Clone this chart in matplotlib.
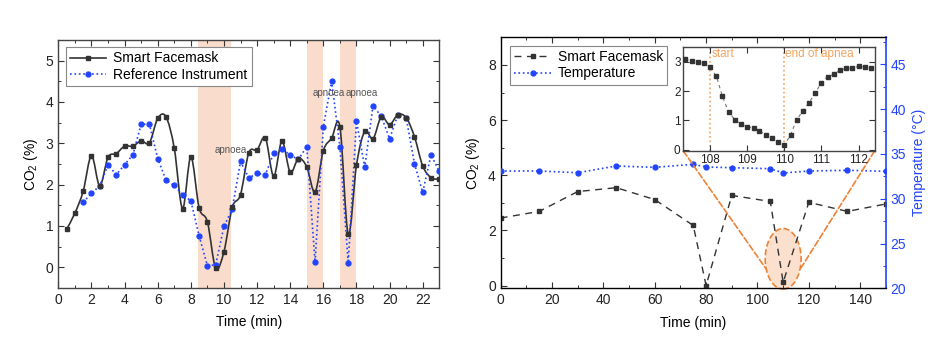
import numpy as np
import matplotlib
matplotlib.use("Agg")
import matplotlib.pyplot as plt
from matplotlib.path import Path
from matplotlib.patches import PathPatch, Ellipse, ConnectionPatch
from matplotlib.ticker import MultipleLocator
from matplotlib.lines import Line2D

plt.rcParams['font.family'] = ['Liberation Sans', 'DejaVu Sans']
plt.rcParams['font.size'] = 10

# ---------------- data: left panel ----------------
mask_t = [0.5, 1.0, 1.5, 2.0, 2.5, 3.0, 3.5, 4.0, 4.5, 5.0, 5.5, 6.0, 6.5, 7.0, 7.5,
          8.0, 8.5, 9.0, 9.5, 10.0, 10.5, 11.0, 11.5, 12.0, 12.5, 13.0, 13.5, 14.0,
          14.5, 15.0, 15.5, 16.0, 16.5, 17.0, 17.5, 18.0, 18.5, 19.0, 19.5, 20.0,
          20.5, 21.0, 21.5, 22.0, 22.5, 23.0]
mask_co2 = [0.92, 1.31, 1.84, 2.70, 1.97, 2.66, 2.75, 2.93, 2.93, 3.06, 3.01, 3.60,
            3.64, 2.88, 1.42, 2.67, 1.44, 1.10, -0.02, 0.38, 1.45, 1.76, 2.77, 2.84,
            3.13, 2.20, 3.05, 2.30, 2.63, 2.43, 1.82, 2.82, 3.12, 3.40, 0.80, 2.47,
            3.29, 3.11, 3.64, 3.45, 3.69, 3.62, 3.16, 2.45, 2.17, 2.13]

ref_t = [1.5, 2.0, 2.5, 3.0, 3.5, 4.0, 4.5, 5.0, 5.5, 6.0, 6.5, 7.0, 7.5, 8.0, 8.5,
         9.0, 9.5, 10.0, 10.5, 11.0, 11.5, 12.0, 12.5, 13.0, 13.5, 14.0, 14.5, 15.0,
         15.5, 16.0, 16.5, 17.0, 17.5, 18.0, 18.5, 19.0, 19.5, 20.0, 20.5, 21.0,
         21.5, 22.0, 22.5, 23.0]
ref_co2 = [1.57, 1.79, 1.97, 2.48, 2.24, 2.48, 2.72, 3.46, 3.46, 2.63, 2.11, 1.98,
           1.76, 1.61, 0.76, 0.04, 0.06, 0.99, 1.41, 2.56, 2.16, 2.27, 2.24, 2.76,
           2.87, 2.71, 2.61, 2.92, 0.12, 3.40, 4.50, 2.92, 0.10, 3.53, 2.42, 3.91,
           3.65, 3.11, 3.69, 3.62, 2.51, 1.81, 2.72, 2.32]

apnoea_bands = [(8.45, 10.4), (15.0, 16.0), (17.0, 18.0)]
apnoea_labels = [(10.4, 2.83), (16.3, 4.22), (18.3, 4.22)]

# ---------------- data: right panel ----------------
long_t = [0, 15, 30, 45, 60, 75, 80, 90, 105, 110, 120, 135, 150]
long_co2 = [2.45, 2.69, 3.41, 3.55, 3.12, 2.18, 0.0, 3.27, 3.05, 0.12, 3.02, 2.69, 2.96]
temp_t = [0, 15, 30, 45, 60, 75, 80, 90, 105, 110, 120, 135, 150]
temp_c = [33.09, 33.09, 32.90, 33.65, 33.50, 33.84, 33.54, 33.46, 33.35, 32.87, 33.09, 33.17, 33.06]

inset_t = [107.33, 107.5, 107.67, 107.83, 108.0, 108.17, 108.33, 108.5, 108.67, 108.83,
           109.0, 109.17, 109.33, 109.5, 109.67, 109.83, 110.0, 110.17, 110.33, 110.5,
           110.67, 110.83, 111.0, 111.17, 111.33, 111.5, 111.67, 111.83, 112.0, 112.17,
           112.33]
inset_co2 = [3.10, 3.03, 3.00, 2.95, 2.81, 2.51, 1.83, 1.28, 1.02, 0.87, 0.78, 0.74,
             0.65, 0.49, 0.40, 0.26, 0.15, 0.51, 1.01, 1.33, 1.61, 1.94, 2.29, 2.49,
             2.57, 2.72, 2.78, 2.78, 2.85, 2.83, 2.80]
inset_marks = [(108.0, 'start'), (110.0, 'end of apnea')]

BLACK = '#333333'
BLUE = '#2244FF'
BAND = '#F9DCCB'
ORANGE = '#EE8236'
ORANGE_T = '#F3A35E'


def smooth_path(xs, ys):
    """Catmull-Rom curve through the points as cubic Bezier path."""
    p = np.column_stack([xs, ys]).astype(float)
    pts = np.vstack([p[0], p, p[-1]])
    verts = [p[0]]
    codes = [Path.MOVETO]
    for i in range(1, len(pts) - 2):
        p0, p1, p2, p3 = pts[i - 1], pts[i], pts[i + 1], pts[i + 2]
        c1 = p1 + (p2 - p0) / 6.0
        c2 = p2 - (p3 - p1) / 6.0
        verts += [c1, c2, p2]
        codes += [Path.CURVE4] * 3
    return Path(verts, codes)


def style_ticks(ax, right=True, top=True):
    ax.tick_params(which='both', direction='in', top=top, right=right, colors=BLACK,
                   labelcolor='#222222')
    ax.tick_params(which='major', length=4, width=0.8)
    ax.tick_params(which='minor', length=2, width=0.7)
    for s in ax.spines.values():
        s.set_color('#444444')
        s.set_linewidth(1.0)


fig = plt.figure(figsize=(9.5, 3.56), dpi=100)

# ---------------- left panel ----------------
ax = fig.add_axes([0.0614, 0.191, 0.401, 0.697])
for a, b in apnoea_bands:
    ax.axvspan(a, b, color=BAND, lw=0, zorder=0)
pp = PathPatch(smooth_path(mask_t, mask_co2), facecolor='none', edgecolor=BLACK, lw=1.2, zorder=3)
ax.add_patch(pp)
ax.plot(mask_t, mask_co2, ls='none', marker='s', ms=3, color=BLACK, zorder=4)
ax.plot(ref_t, ref_co2, ls=':', lw=1.2, marker='o', ms=3.5, color=BLUE, zorder=3)
for (x, y) in apnoea_labels:
    ax.text(x, y, 'apnoea', ha='center', va='center', fontsize=7, color='#555555', zorder=5)
ax.set_xlim(0, 23)
ax.set_ylim(-0.5, 5.5)
ax.xaxis.set_major_locator(MultipleLocator(2))
ax.xaxis.set_minor_locator(MultipleLocator(1))
ax.yaxis.set_major_locator(MultipleLocator(1))
ax.yaxis.set_minor_locator(MultipleLocator(0.5))
style_ticks(ax)
ax.set_xlabel('Time (min)', labelpad=6)
ax.set_ylabel(r'CO$_\mathregular{2}$ (%)', labelpad=4)
h1 = Line2D([], [], color=BLACK, lw=1.2, marker='s', ms=3)
h2 = Line2D([], [], color=BLUE, lw=1.2, ls=':', marker='o', ms=3.5)
leg = ax.legend([h1, h2], ['Smart Facemask', 'Reference Instrument'], loc='upper left',
                bbox_to_anchor=(0.02, 0.97), fancybox=False, edgecolor='#888888',
                framealpha=1, handlelength=2.6, borderpad=0.3, labelspacing=0.15,
                handletextpad=0.5, borderaxespad=0.0)
leg.get_frame().set_linewidth(0.8)

# ---------------- right panel ----------------
axr = fig.add_axes([0.527, 0.19, 0.4055, 0.705])
axt = axr.twinx()
ell = Ellipse((110, 0.97), width=14, height=2.2, facecolor='#FBE0CE', edgecolor=ORANGE,
              ls='--', lw=1.2, zorder=1, clip_on=False)
axr.add_patch(ell)
axr.plot(long_t, long_co2, ls=(0, (5, 4)), lw=1.0, marker='s', ms=3, color=BLACK, zorder=3)
axt.plot(temp_t, temp_c, ls=':', lw=1.2, marker='o', ms=3.5, color=BLUE, zorder=3)
axr.set_xlim(0, 150)
axr.set_ylim(-0.1, 9.0)
axt.set_ylim(20, 48)
axr.xaxis.set_major_locator(MultipleLocator(20))
axr.xaxis.set_minor_locator(MultipleLocator(10))
axr.yaxis.set_major_locator(MultipleLocator(2))
axr.yaxis.set_minor_locator(MultipleLocator(1))
axt.yaxis.set_major_locator(MultipleLocator(5))
axt.yaxis.set_minor_locator(MultipleLocator(2.5))
style_ticks(axr, right=False)
axt.tick_params(which='both', direction='in', colors=BLUE, labelcolor=BLUE, labelsize=10)
axt.tick_params(which='major', length=4, width=0.8)
axt.tick_params(which='minor', length=2, width=0.7)
axt.spines['right'].set_color(BLUE)
axt.spines['right'].set_linewidth(1.2)
axr.spines['right'].set_visible(False)
axr.set_xlabel('Time (min)', labelpad=6)
axr.set_ylabel(r'CO$_\mathregular{2}$ (%)', labelpad=4)
axt.set_ylabel('Temperature (°C)', color=BLUE, labelpad=4)
h3 = Line2D([], [], color=BLACK, lw=1.0, ls=(0, (5, 4)), marker='s', ms=3)
h4 = Line2D([], [], color=BLUE, lw=1.2, ls=':', marker='o', ms=3.5)
leg2 = axt.legend([h3, h4], ['Smart Facemask', 'Temperature'], loc='upper left',
                  bbox_to_anchor=(0.025, 0.965), fancybox=False, edgecolor='#888888',
                  framealpha=1, handlelength=2.6, borderpad=0.3, labelspacing=0.15,
                  handletextpad=0.5, borderaxespad=0.0)
leg2.get_frame().set_linewidth(0.8)

# ---------------- inset ----------------
axi = fig.add_axes([0.7193, 0.5758, 0.2013, 0.2913])
axi.set_zorder(5)
axi.plot(inset_t, inset_co2, ls=(0, (3, 3)), lw=0.8, color='#777777', zorder=2)
axi.plot(inset_t, inset_co2, ls='none', marker='s', ms=3, color=BLACK, zorder=3)
for x, lab in inset_marks:
    axi.axvline(x, color=ORANGE_T, ls=':', lw=1.2, zorder=1)
    axi.text(x + 0.03, 3.47, lab, color=ORANGE_T, fontsize=8.5, ha='left', va='top')
axi.set_xlim(107.28, 112.43)
axi.set_ylim(-0.05, 3.5)
axi.xaxis.set_major_locator(MultipleLocator(1))
axi.yaxis.set_major_locator(MultipleLocator(1))
style_ticks(axi)
axi.tick_params(labelsize=8.5, pad=2)

for xa, xb in [((0, 0), (103.4, 0.6)), ((1, 0), (117.0, 0.65))]:
    cp = ConnectionPatch(xyA=xa, coordsA=axi.transAxes, xyB=xb, coordsB=axr.transData,
                         color=ORANGE, ls='--', lw=1.2, zorder=2)
    fig.add_artist(cp)

fig.savefig('out.png', dpi=100)
